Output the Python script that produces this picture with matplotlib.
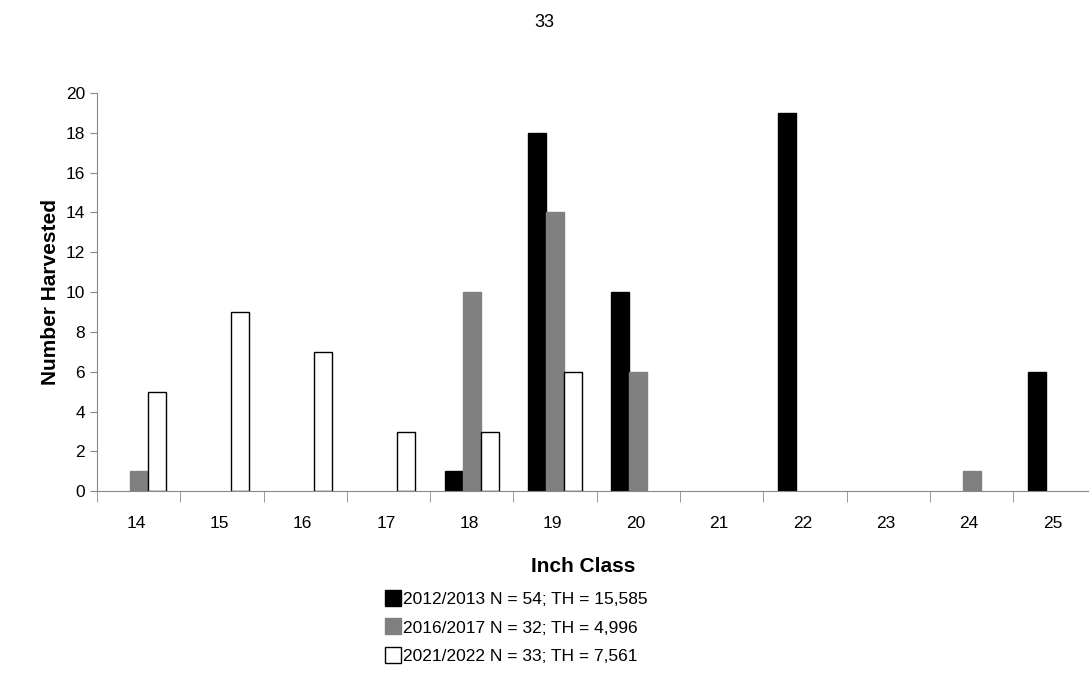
import matplotlib
matplotlib.use("Agg")
import matplotlib.pyplot as plt
import numpy as np

plt.rcParams['font.family'] = ['Liberation Sans', 'DejaVu Sans']

categories = ['14','15','16','17','18','19','20','21','22','23','24','25']
s2012 = [0,0,0,0,1,18,10,0,19,0,0,6]
s2016 = [1,0,0,0,10,14,6,0,0,0,1,0]
s2021 = [5,9,7,3,3,6,0,0,0,0,0,0]
labels = ['2012/2013 N = 54; TH = 15,585',
          '2016/2017 N = 32; TH = 4,996',
          '2021/2022 N = 33; TH = 7,561']

fig = plt.figure(figsize=(10.89, 6.93), dpi=100)
ax = fig.add_axes([0.089, 0.291, 0.918, 0.575])
x = np.arange(len(categories))
w = 0.216

def draw(vals, off, fc, ec):
    v = np.array(vals, dtype=float)
    m = v > 0
    ax.bar(x[m] + off, v[m], w, color=fc, edgecolor=ec, linewidth=1)

draw(s2012, -w, 'black', 'black')
draw(s2016, 0, '#808080', '#808080')
draw(s2021, w, 'white', 'black')
ax.set_xlim(-0.5, len(categories) - 0.5)
ax.set_ylim(0, 20)
ax.set_yticks(range(0, 21, 2))
ax.set_xticks(x - 0.03)
ax.set_xticklabels(categories, fontsize=12.5)
ax.set_xticks(np.arange(-0.5, len(categories)), minor=True)
ax.tick_params(axis='x', which='major', length=0, pad=18)
ax.tick_params(axis='x', which='minor', length=8, color='#888888')
ax.tick_params(axis='y', labelsize=12.5, length=5, color='#888888')
for s in ['top', 'right']:
    ax.spines[s].set_visible(False)
for s in ['left', 'bottom']:
    ax.spines[s].set_color('#888888')
ax.set_xlabel('Inch Class', fontsize=15, fontweight='bold')
ax.xaxis.set_label_coords(0.486, -0.165)
ax.set_ylabel('Number Harvested', fontsize=15, fontweight='bold')
fig.text(0.5, 0.968, '33', ha='center', va='center', fontsize=13)

from matplotlib.lines import Line2D
handles = [Line2D([], [], marker='s', linestyle='none', markersize=11,
                  markerfacecolor=fc, markeredgecolor=ec)
           for fc, ec in [('black','black'), ('#808080','#808080'), ('white','black')]]
fig.legend(handles, labels, loc='upper center', bbox_to_anchor=(0.474, 0.158),
           frameon=False, fontsize=12.5, handletextpad=0.1, labelspacing=0.75,
           handlelength=1.0, borderpad=0)
fig.savefig('out.png', dpi=100)
